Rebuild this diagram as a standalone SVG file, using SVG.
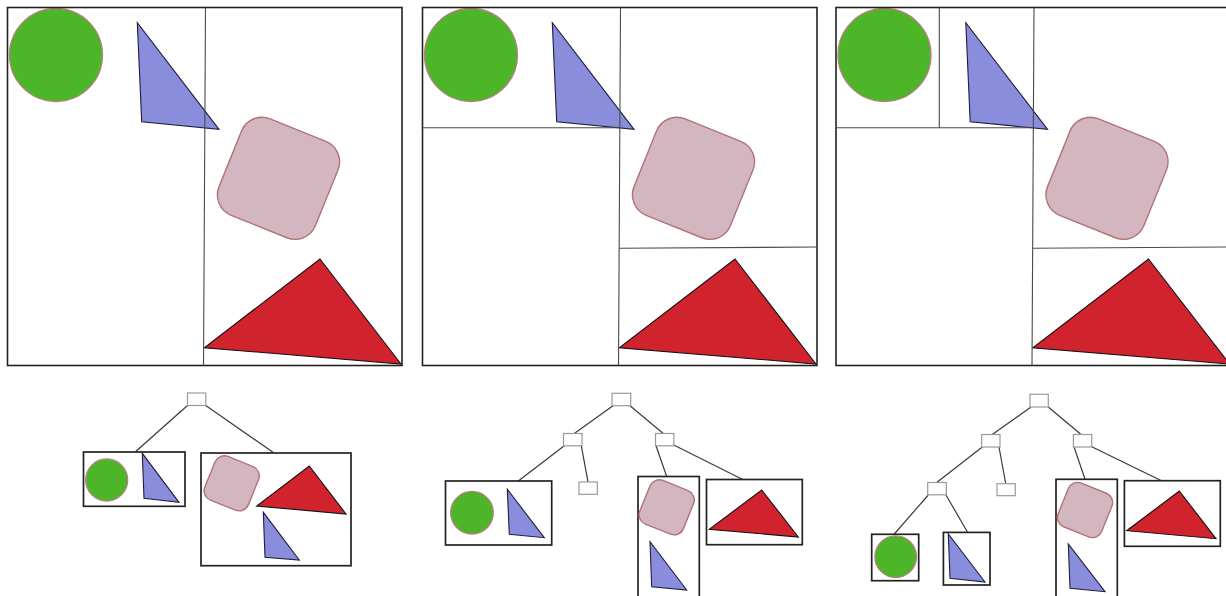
<svg xmlns="http://www.w3.org/2000/svg" xmlns:xlink="http://www.w3.org/1999/xlink" width="1226" height="596" viewBox="0 0 1226 596">
<style>
.frame{fill:none;stroke:#222;stroke-width:1.6}
.split{fill:none;stroke:#4a4a4a;stroke-width:1.1}
.circ{fill:#4cb628;stroke:#b58080;stroke-width:1.3}
.blue{fill:#8a8cdc;stroke:#1e1e3c;stroke-width:1.1;stroke-linejoin:miter}
.rsq{fill:#d4b6c1;stroke:#b07474;stroke-width:1.4}
.red{fill:#d0232e;stroke:#111;stroke-width:1.1}
.inner{fill:#fff;stroke:#9a9a9a;stroke-width:1.2}
.leaf{fill:none;stroke:#222;stroke-width:1.7}
.edge{fill:none;stroke:#3a3a3a;stroke-width:1.2}
</style>
<defs>
<g id="shapes">
<circle class="circ" cx="56" cy="55" r="46.5"/>
<polygon class="blue" points="137.3,22.7 141.7,121.7 219,129.3"/>
<rect class="rsq" x="-52" y="-52" width="104" height="104" rx="22" transform="translate(278.5,178.3) rotate(22)"/>
<polygon class="red" points="320,259 401,364 204.3,347.7"/>
</g>
</defs>
<rect width="1226" height="596" fill="#fff"/>

<g id="panel1">
<use xlink:href="#shapes"/>
<rect class="frame" x="7.5" y="7.5" width="394.5" height="358"/>
<line class="split" x1="205.5" y1="7.5" x2="203.5" y2="365.5"/>
</g>

<g id="panel2" transform="translate(415,0)">
<use xlink:href="#shapes"/>
<rect class="frame" x="7.5" y="7.5" width="394.5" height="358"/>
<line class="split" x1="205.5" y1="7.5" x2="203.5" y2="365.5"/>
<line class="split" x1="7.5" y1="127.7" x2="205" y2="127.7"/>
<line class="split" x1="204" y1="248.3" x2="402" y2="247"/>
</g>

<g id="panel3" transform="translate(828.5,0)">
<use xlink:href="#shapes"/>
<rect class="frame" x="7.5" y="7.5" width="394.5" height="358"/>
<line class="split" x1="205.5" y1="7.5" x2="203.5" y2="365.5"/>
<line class="split" x1="7.5" y1="127.7" x2="205" y2="127.7"/>
<line class="split" x1="204" y1="248.3" x2="402" y2="247"/>
<line class="split" x1="110.8" y1="7.5" x2="110.8" y2="127.7"/>
</g>

<g id="connectors">
<line class="edge" x1="187.5" y1="405.5" x2="135.7" y2="451.5"/>
<line class="edge" x1="205.7" y1="405.5" x2="273.3" y2="452.5"/>

<line class="edge" x1="613" y1="405.7" x2="574.3" y2="433.5"/>
<line class="edge" x1="630" y1="405.7" x2="663.3" y2="433.5"/>
<line class="edge" x1="564.3" y1="445.7" x2="518.3" y2="481"/>
<line class="edge" x1="581.3" y1="445.7" x2="588" y2="482"/>
<line class="edge" x1="656" y1="445.7" x2="666.7" y2="476.5"/>
<line class="edge" x1="673.7" y1="445" x2="742.7" y2="479.5"/>

<line class="edge" x1="1031" y1="407" x2="992.3" y2="434.5"/>
<line class="edge" x1="1048.3" y1="407" x2="1081" y2="434.5"/>
<line class="edge" x1="982.3" y1="447" x2="936.7" y2="482.5"/>
<line class="edge" x1="999" y1="447" x2="1005.7" y2="483.5"/>
<line class="edge" x1="928.3" y1="495" x2="894.3" y2="534"/>
<line class="edge" x1="946" y1="495" x2="967.7" y2="532.5"/>
<line class="edge" x1="1074" y1="447" x2="1085" y2="479"/>
<line class="edge" x1="1091.7" y1="446.7" x2="1161" y2="480.5"/>
</g>

<!-- Tree 1 -->
<g id="t1-root"><rect class="inner" x="187.5" y="393" width="18.3" height="12.5"/></g>
<g id="t1-left">
<rect class="leaf" x="83.5" y="452" width="101.5" height="54.3"/>
<circle class="circ" cx="106.7" cy="480" r="21"/>
<polygon class="blue" points="142.3,453.3 144,498.3 179,502.3"/>
</g>
<g id="t1-right">
<rect class="leaf" x="201" y="453" width="150" height="112.7"/>
<rect class="rsq" x="-23.5" y="-23.5" width="47" height="47" rx="10" transform="translate(231.7,483.3) rotate(22)"/>
<polygon class="red" points="309.3,466 346,514 256.7,506"/>
<polygon class="blue" points="263.3,512.3 265,557.3 299.3,560"/>
</g>

<!-- Tree 2 -->
<g id="t2-root"><rect class="inner" x="612" y="393.3" width="18.7" height="12.4"/></g>
<g id="t2-a"><rect class="inner" x="563.5" y="433.5" width="18.5" height="12.3"/></g>
<g id="t2-b"><rect class="inner" x="655.5" y="433.5" width="18.3" height="12.3"/></g>
<g id="t2-empty"><rect class="inner" x="579" y="482" width="18.3" height="12.3"/></g>
<g id="t2-leaf1">
<rect class="leaf" x="445.5" y="481" width="106.2" height="64"/>
<circle class="circ" cx="472" cy="512.7" r="21.3"/>
<polygon class="blue" points="507.3,489.3 509.3,534.3 544.3,537.7"/>
</g>
<g id="t2-leaf2">
<rect class="leaf" x="638" y="476.5" width="61.3" height="130"/>
<rect class="rsq" x="-23.5" y="-23.5" width="47" height="47" rx="10" transform="translate(666.7,507.3) rotate(22)"/>
<polygon class="blue" points="650,541.7 651.7,586.7 686.7,590"/>
</g>
<g id="t2-leaf3">
<rect class="leaf" x="706.5" y="479.5" width="95.8" height="65.2"/>
<polygon class="red" points="761.7,490 798.3,537 709.3,529.3"/>
</g>

<!-- Tree 3 -->
<g id="t3-root"><rect class="inner" x="1030" y="394.3" width="18.3" height="12.7"/></g>
<g id="t3-a"><rect class="inner" x="981.7" y="434.5" width="18.3" height="12.5"/></g>
<g id="t3-b"><rect class="inner" x="1073.4" y="434.5" width="18.3" height="12.5"/></g>
<g id="t3-aa"><rect class="inner" x="927.7" y="482.5" width="18.6" height="12.3"/></g>
<g id="t3-ab"><rect class="inner" x="997" y="483.7" width="18.3" height="12"/></g>
<g id="t3-leaf1">
<rect class="leaf" x="871.7" y="534.3" width="47" height="46.4"/>
<circle class="circ" cx="895.7" cy="556.7" r="20.8"/>
</g>
<g id="t3-leaf2">
<rect class="leaf" x="943.4" y="532.4" width="46.6" height="52.6"/>
<polygon class="blue" points="948.3,534 950,578.3 985,582"/>
</g>
<g id="t3-leaf3">
<rect class="leaf" x="1056" y="479.3" width="61.3" height="130"/>
<rect class="rsq" x="-23.5" y="-23.5" width="47" height="47" rx="10" transform="translate(1085,510) rotate(22)"/>
<polygon class="blue" points="1068.3,544 1070,588.3 1105,591.7"/>
</g>
<g id="t3-leaf4">
<rect class="leaf" x="1124.4" y="480.7" width="95.9" height="65.6"/>
<polygon class="red" points="1179.3,491 1216,538.7 1126.7,530.7"/>
</g>
</svg>
